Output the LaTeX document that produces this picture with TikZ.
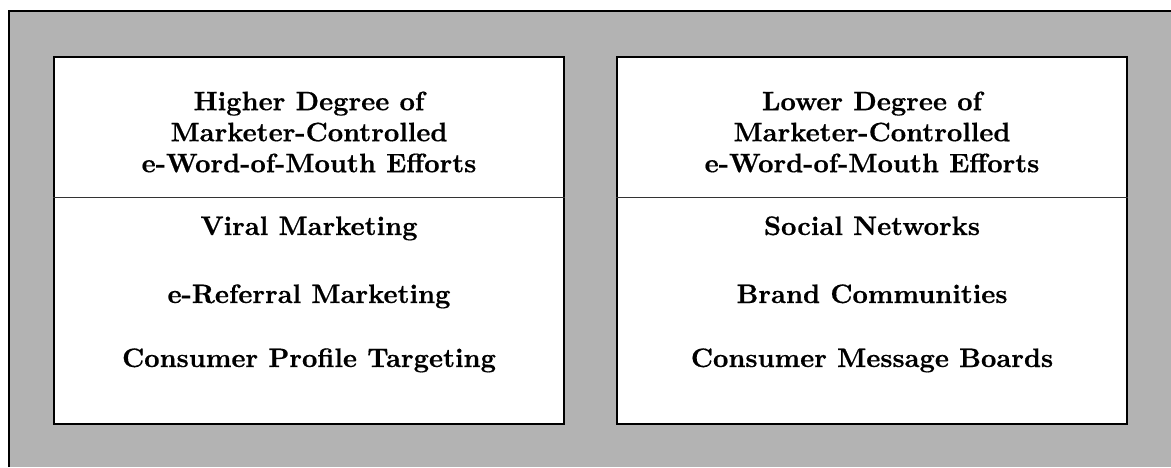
\documentclass[tikz,border=0pt]{standalone}
\usepackage{fontspec}
\newfontfamily\boxfont[FakeBold=0.5]{lmroman10-bold.otf}
\definecolor{panelgray}{HTML}{B3B3B3}
\tikzstyle{panel} = [rectangle, draw=black, line width=1.2pt, fill=white, minimum width=510pt, inner sep=0pt]
\tikzstyle{head} = [align=center, font=\fontsize{26.7}{31}\boxfont]
\tikzstyle{item} = [anchor=base, inner sep=0pt, font=\fontsize{26.7}{31}\boxfont]
\tikzstyle{divider} = [line width=0.8pt, draw=black!80]

\begin{document}
\begin{tikzpicture}[x=1pt, y=-1pt]
    \useasboundingbox (0,0) rectangle (1171,467);
    % gray frame, only its left and top edges are in view
    \fill [panelgray] (9,11) rectangle (1171,467);
    \draw [line width=1.2pt] (9,467) -- (9,11) -- (1171,11);
    % two columns
    \node [panel, minimum height=367pt] at (309,240.5) (left) {};
    \node [panel, minimum height=367pt] at (872,240.5) (right) {};
    \draw [divider] (left.west |- 0,197) -- (left.east |- 0,197);
    \draw [divider] (right.west |- 0,197) -- (right.east |- 0,197);
    % headers
    \node [head] at (309,132) (lefthead) {Higher Degree of\\Marketer-Controlled\\e-Word-of-Mouth Efforts};
    \node [head] at (872,132) (righthead) {Lower Degree of\\Marketer-Controlled\\e-Word-of-Mouth Efforts};
    % items
    \node [item] at (309,235) (viral) {Viral Marketing};
    \node [item] at (309,303) (referral) {e-Referral Marketing};
    \node [item] at (309,367) (profile) {Consumer Profile Targeting};
    \node [item] at (872,235) (social) {Social Networks};
    \node [item] at (872,303) (brand) {Brand Communities};
    \node [item] at (872,367) (boards) {Consumer Message Boards};
\end{tikzpicture}
\end{document}
